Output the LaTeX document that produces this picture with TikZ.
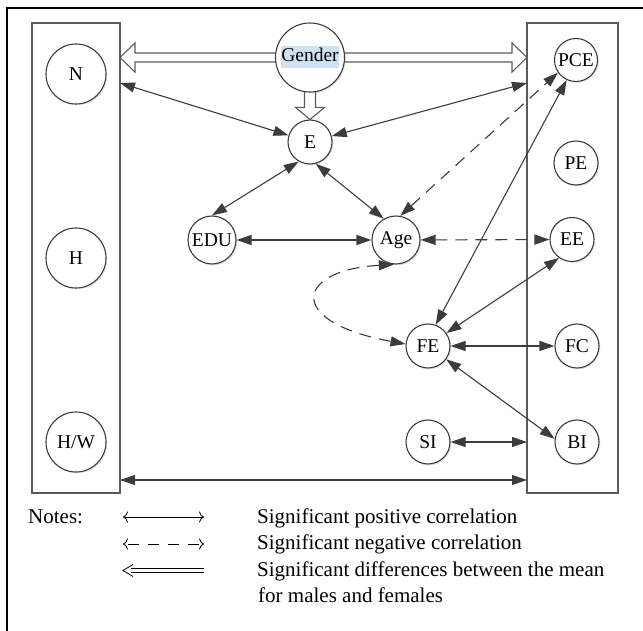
\documentclass[tikz,border=0pt]{standalone}
\usepackage{fontspec}
\setmainfont{Liberation Serif}
\usetikzlibrary{arrows.meta,shadows,calc}
\definecolor{cline}{HTML}{3C3C3C}
\definecolor{cbox}{HTML}{5A5A5A}
\definecolor{hl}{HTML}{CFE2F3}
\newcommand{\nodefont}{\fontsize{19.5}{22}\selectfont}
\newcommand{\legfont}{\fontsize{21}{24}\selectfont}
\pgfdeclarelayer{bg}
\pgfsetlayers{bg,main}
\begin{document}
\begin{tikzpicture}[x=1pt,y=-1pt,
  circ/.style={circle,draw=cline,line width=1.1pt,fill=white,inner sep=0pt,
    minimum size=44pt,font=\nodefont,
    drop shadow={shadow xshift=1.3pt,shadow yshift=-1.3pt,opacity=0.18,fill=black!60}},
  bigcirc/.style={circ,minimum size=60pt},
  panel/.style={draw=cbox,line width=1.3pt,inner sep=0pt,outer sep=0pt,minimum height=470pt},
  posline/.style={draw=cline,line width=1.1pt,{Triangle[length=15pt,width=10pt]}-{Triangle[length=15pt,width=10pt]}},
  negline/.style={posline,dash pattern=on 12pt off 8pt},
  hollow/.style={draw=cbox,line width=1.1pt,fill=white,line join=miter},
  legtip/.style={line width=0.8pt,black,{To[length=5pt,width=11pt]}-{To[length=5pt,width=11pt]}},
  legtext/.style={anchor=base west,font=\legfont,inner sep=0pt}
]
\useasboundingbox (0,0) rectangle (643,631);
% outer frame
\draw[line width=2.2pt] (7,631) -- (7,8) -- (643,8);
% panels
\node[panel,minimum width=88pt] (lbox) at (76,258) {};
\node[panel,minimum width=91pt] (rbox) at (572.5,258) {};
% nodes
\node[bigcirc] (N) at (76,74) {N};
\node[bigcirc] (H) at (76,258) {H};
\node[bigcirc] (HW) at (76,442) {H/W};
\node[circ,minimum size=69pt] (Gender) at (310,57.5) {\setlength{\fboxsep}{0pt}\colorbox{hl}{\strut Gender}};
\node[circ] (E) at (310,142) {E};
\node[circ,minimum size=48pt] (EDU) at (212,240) {EDU};
\node[circ,minimum size=48pt] (Age) at (396,240) {Age};
\node[circ] (FE) at (428,346) {FE};
\node[circ] (SI) at (428,442) {SI};
\node[circ,minimum size=43pt] (PCE) at (576,60) {PCE};
\node[circ] (PE) at (576,163) {PE};
\node[circ] (EE) at (572,239.5) {EE};
\node[circ] (FC) at (577,346) {FC};
\node[circ] (BI) at (577,442) {BI};
% hollow arrows (gender differences)
\begin{pgfonlayer}{bg}
\draw[hollow] let \p1=(Gender.west), \p2=(lbox.east) in
  (\x2,\y1) -- (\x2+15pt,\y1+14.5pt) -- (\x2+15pt,\y1+4.5pt) -- (\x1+2pt,\y1+4.5pt)
  -- (\x1+2pt,\y1-4.5pt) -- (\x2+15pt,\y1-4.5pt) -- (\x2+15pt,\y1-14.5pt) -- cycle;
\draw[hollow] let \p1=(Gender.east), \p2=(rbox.west) in
  (\x2,\y1) -- (\x2-15pt,\y1+14.5pt) -- (\x2-15pt,\y1+4.5pt) -- (\x1-2pt,\y1+4.5pt)
  -- (\x1-2pt,\y1-4.5pt) -- (\x2-15pt,\y1-4.5pt) -- (\x2-15pt,\y1-14.5pt) -- cycle;
\draw[hollow] let \p1=(Gender.south), \p2=(E.north) in
  (\x1,\y2) -- (\x1-14.5pt,\y2+12pt) -- (\x1-5.5pt,\y2+12pt) -- (\x1-5.5pt,\y1+2pt)
  -- (\x1+5.5pt,\y1+2pt) -- (\x1+5.5pt,\y2+12pt) -- (\x1+14.5pt,\y2+12pt) -- cycle;
\end{pgfonlayer}
% connector end points on panels
\coordinate (lN) at (lbox.east |- 0,83);
\coordinate (rN) at (rbox.west |- 0,83);
\coordinate (rSI) at (rbox.west |- SI);
\coordinate (lB) at (lbox.east |- 0,480);
\coordinate (rB) at (rbox.west |- 0,480);
% connectors
\draw[posline] (lN) -- (E);
\draw[posline] (E) -- (rN);
\draw[posline] (E.240) -- (EDU.north);
\draw[posline] (E.285) -- (Age.120);
\draw[posline] (EDU) -- (Age);
\draw[negline] (Age.80) -- (PCE.215);
\draw[posline] (PCE.245) -- (FE.70);
\draw[negline] (Age) -- (EE);
\draw[negline] (Age.265) .. controls (295,270) and (285,322) .. (FE.175);
\draw[posline] (FE.35) -- (EE.235);
\draw[posline] (FE) -- (FC);
\draw[posline] (FE) -- (BI.172);
\draw[posline] (SI) -- (rSI);
\draw[posline] (lB) -- (rB);
% legend
\node[legtext] (notes) at (28,523) {Notes:};
\coordinate (l1a) at (123,517);
\coordinate (l1b) at (204,517);
\coordinate (l2a) at (123,544);
\coordinate (l2b) at (204,544);
\coordinate (l3a) at (123,570.5);
\coordinate (l3b) at (204,570.5);
\draw[legtip] (l1a) -- (l1b);
\draw[legtip,dash pattern=on 11pt off 9pt,dash phase=-4pt] (l2a) -- (l2b);
\draw[line width=0.8pt,black] ([xshift=10pt,yshift=6pt]l3a) -- (l3a) -- ([xshift=10pt,yshift=-6pt]l3a);
\draw[line width=0.8pt,black] ([xshift=8pt,yshift=2.2pt]l3a) -- ([yshift=2.2pt]l3b);
\draw[line width=0.8pt,black] ([xshift=8pt,yshift=-2.2pt]l3a) -- ([yshift=-2.2pt]l3b);
\node[legtext] (t1) at (257,523) {Significant positive correlation};
\node[legtext] (t2) at (257,549.5) {Significant negative correlation};
\node[legtext] (t3) at (257,576) {Significant differences between the mean};
\node[legtext] (t4) at (258,602.5) {for males and females};
\end{tikzpicture}
\end{document}
